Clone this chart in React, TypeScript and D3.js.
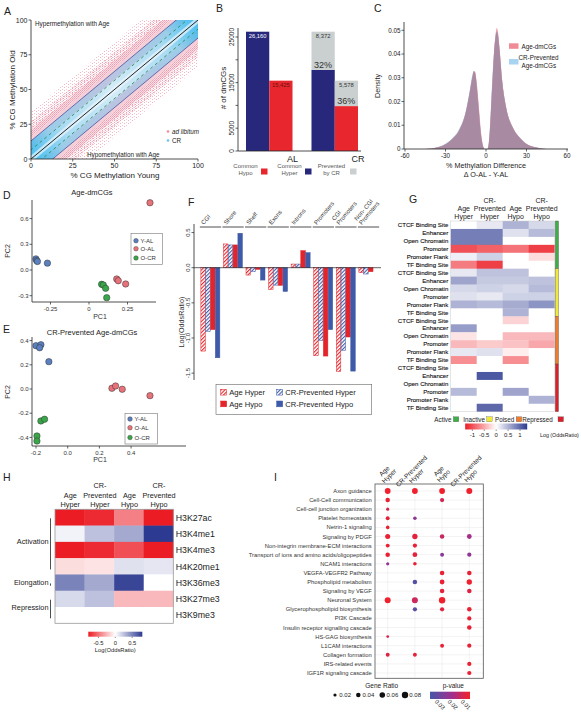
import React from 'react';
import * as d3 from 'd3';

const FONT = "'Liberation Sans', Arial, Helvetica, sans-serif";

// ---------------- Panel A data ----------------
const aTicks = [0, 25, 50, 75, 100];
const aPinkHalfWidths = [34, 27, 21, 16];
const aBlueHalfWidths = [13, 7, 2.5];
const aGuideOffsets = [-13, 13];
const aDashedOffsets = [-6.5, 6.5];

// ---------------- Panel B data ----------------
const bGroups = ['AL', 'CR'];
const bCommonHyper = [26160, 17788];
const bCommonHypo = [15425, 9847];
const bPreventedHyper = [0, 8372];
const bPreventedHypo = [0, 5578];
const bTicks = [0, 5000, 10000, 15000, 20000, 25000];
const bTickLabels = ['0', '5000', '', '15000', '', '25000'];
const bLegend = ['Common\nHypo', 'Common\nHyper', 'Prevented\nby CR'];

// ---------------- Panel C data ----------------
const cX = [-45, -40, -35, -30, -25, -20, -15, -12, -10, -9, -8, -7, -6, -5, -4, -3, -2, -1, 0, 1, 2, 3, 4, 5, 6, 7, 8, 9, 10, 12, 15, 20, 25, 30, 35, 40, 45];
const cAgeDensity = [0, 0.0002, 0.0008, 0.002, 0.0042, 0.0078, 0.0155, 0.024, 0.0305, 0.0328, 0.0325, 0.029, 0.023, 0.016, 0.009, 0.004, 0.001, 0, 0, 0, 0.002, 0.009, 0.02, 0.031, 0.041, 0.048, 0.051, 0.049, 0.043, 0.029, 0.0175, 0.009, 0.0048, 0.0022, 0.0009, 0.0003, 0];
const cCRDensity = [0, 0.0002, 0.0009, 0.0022, 0.0045, 0.0082, 0.016, 0.025, 0.0315, 0.033, 0.0318, 0.0275, 0.021, 0.014, 0.0075, 0.0032, 0.0008, 0, 0, 0, 0.0025, 0.0105, 0.022, 0.033, 0.0415, 0.047, 0.0495, 0.0475, 0.042, 0.0285, 0.0172, 0.0088, 0.0047, 0.0021, 0.0009, 0.0003, 0];
const cYTicks = [0, 0.01, 0.02, 0.03, 0.04, 0.05];
const cYTickLabels = ['0', '0.01', '0.02', '0.03', '0.04', '0.05'];
const cXTicks = [-60, -30, 0, 30, 60];

// ---------------- Panel D / E data ----------------
const dYAL = [[-0.345, 0.13], [-0.34, 0.11], [-0.335, 0.1], [-0.27, 0.08]];
const dOAL = [[0.18, -0.105], [0.19, -0.125], [0.238, -0.163], [0.396, 0.785]];
const dOCR = [[0.082, -0.167], [0.093, -0.175], [0.108, -0.214], [0.115, -0.323]];
const dXTicks = [-0.25, 0, 0.25];
const dXTickLabels = ['-0.25', '0', '0.25'];
const dYTicks = [-0.3, 0, 0.3, 0.6];
const dYTickLabels = ['-0.3', '0.0', '0.3', '0.6'];

const eYAL = [[-0.2, 0.358], [-0.169, 0.366], [-0.177, 0.341], [-0.119, 0.226]];
const eOAL = [[0.279, 0.006], [0.302, 0.025], [0.344, -0.002], [0.519, -0.055]];
const eOCR = [[-0.169, -0.264], [-0.146, -0.25], [-0.194, -0.388], [-0.194, -0.43]];
const eXTicks = [-0.2, 0, 0.2, 0.4];
const eXTickLabels = ['-0.2', '0.0', '0.2', '0.4'];
const eYTicks = [-0.4, -0.2, 0, 0.2, 0.4];
const eYTickLabels = ['-0.4', '-0.2', '0.0', '0.2', '0.4'];
const pcaGroups = ['Y-AL', 'O-AL', 'O-CR'];

// ---------------- Panel F data ----------------
const fCategories = ['CGI', 'Shore', 'Shelf', 'Exons', 'Introns', 'Promoters', 'CGI\nPromoters', 'Non- CGI\nPromoters'];
const fAgeHyper = [-1.186, 0.338, -0.105, -0.31, 0.052, -1.252, -1.476, -0.071];
const fCRHyper = [-0.905, 0.324, -0.057, -0.248, 0.052, -1.033, -1.176, -0.09];
const fAgeHypo = [-0.881, 0.324, -0.024, -0.252, 0.243, -1.257, -0.986, -0.057];
const fCRHypo = [-1.281, 0.49, -0.176, -0.338, 0.214, -0.881, -1.471, 0];
const fTicks = [0.5, 0, -0.5, -1, -1.5];
const fTickLabels = ['0.5', '0.0', '-0.5', '-1.0', '-1.5'];
const fSeries = ['Age Hyper', 'CR-Prevented Hyper', 'Age Hypo', 'CR-Prevented Hypo'];

// ---------------- Panel G data ----------------
const gColumns = ['Age\nHyper', 'CR-\nPrevented\nHyper', 'Age\nHypo', 'CR-\nPrevented\nHypo'];
const gFeatures = ['CTCF Binding Site', 'Enhancer', 'Open Chromatin', 'Promoter', 'Promoter Flank', 'TF Binding Site'];
const gStates = ['Active', 'Inactive', 'Poised', 'Repressed'];
const gAgeHyper = [0, 0.85, 0.85, -1.0, 0.1, -0.75, 0.15, 0.6, 0.25, 0.2, 0.5, 0, 0, 0.65, -0.15, -0.4, 0.15, -0.65, 0, 0, 0, 0.45, 0, 0];
const gCRHyper = [0.15, 0.85, 0.85, -0.9, 0.3, -1.1, 0.4, 0.35, 0.3, 0.15, 0.45, 0, 0, 0, 0, -0.3, 0.2, 0, 0, 1.1, 0, 0, 0, 1.0];
const gAgeHypo = [0.5, 0.2, 0, -0.8, 0, 0, 0.4, 0.35, 0.25, 0.3, 0.55, 0.5, -0.25, 0, -0.4, -0.35, -0.1, -0.65, 0, 0, 0, 0.6, 0, 0];
const gCRHypo = [0.25, 0.45, 0, -1.1, -0.2, 0, 0, 0.4, 0.45, 0.3, 0.7, 0, 0, 0, -0.4, -0.5, 0, 0, 0, 0, 0, 0, 0.5, 0];
const gBarTicks = [-1, -0.5, 0, 0.5, 1];
const gBarTickLabels = ['-1', '-0.5', '0', '0.5', '1'];

// ---------------- Panel H data ----------------
const hColumns = ['Age\nHyper', 'CR-\nPrevented\nHyper', 'Age\nHypo', 'CR-\nPrevented\nHypo'];
const hMarks = ['H3K27ac', 'H3K4me1', 'H3K4me3', 'H4K20me1', 'H3K36me3', 'H3K27me3', 'H3K9me3'];
const hAgeHyper = [-0.85, 0.05, -0.85, -0.12, 0.5, 0.15, 0];
const hCRHyper = [-0.75, 0.25, -0.75, -0.1, 0.35, 0.25, 0];
const hAgeHypo = [-0.45, 0.35, -0.62, 0.12, 0.75, -0.25, 0];
const hCRHypo = [-0.85, 0.85, -0.85, 0.1, 0, -0.25, 0];
const hGroups = [
  { name: 'Activation', from: 0, to: 3 },
  { name: 'Elongation', from: 4, to: 4 },
  { name: 'Repression', from: 5, to: 6 },
];
const hBarTicks = [-0.5, 0, 0.5];
const hBarTickLabels = ['-0.5', '0', '0.5'];

// ---------------- Panel I data ----------------
const iColumns = ['Age\nHyper', 'CR-Prevented\nHyper', 'Age\nHypo', 'CR-Prevented\nHypo'];
const iPathways = ['Axon guidance', 'Cell-Cell communication', 'Cell-cell junction organization', 'Platelet homeostasis', 'Netrin-1 signaling', 'Signaling by PDGF', 'Non-integrin membrane-ECM interactions', 'Transport of ions and amino acids/oligopeptides', 'NCAM1 interactions', 'VEGFA-VEGFR2 Pathway', 'Phospholipid metabolism', 'Signaling by VEGF', 'Neuronal System', 'Glycerophospholipid biosynthesis', 'PI3K Cascade', 'Insulin receptor signalling cascade', 'HS-GAG biosynthesis', 'L1CAM interactions', 'Collagen formation', 'IRS-related events', 'IGF1R signaling cascade'];
// [geneRatio, pValue] or null, one list per column
const iAgeHyper = [[0.065, 0.005], [0.04, 0.006], [0.02, 0.009], [0.03, 0.007], [0.025, 0.006], [0.05, 0.006], [0.03, 0.006], [0.04, 0.006], [0.02, 0.02], null, null, null, [0.07, 0.005], null, null, null, [0.015, 0.009], null, [0.03, 0.008], null, null];
const iCRHyper = [[0.065, 0.005], null, null, [0.025, 0.021], null, [0.055, 0.007], [0.035, 0.006], [0.045, 0.007], [0.025, 0.006], null, [0.04, 0.032], null, [0.07, 0.011], [0.035, 0.031], null, null, null, null, [0.03, 0.007], null, null];
const iAgeHypo = [[0.065, 0.005], [0.035, 0.01], null, null, null, [0.04, 0.012], null, [0.03, 0.023], null, [0.04, 0.006], [0.045, 0.006], [0.04, 0.007], [0.08, 0.005], [0.035, 0.007], null, null, null, [0.03, 0.006], null, null, null];
const iCRHypo = [[0.07, 0.005], null, null, null, null, [0.045, 0.017], null, [0.035, 0.021], null, [0.04, 0.006], [0.055, 0.005], [0.04, 0.008], null, [0.04, 0.006], [0.035, 0.006], [0.04, 0.006], null, [0.035, 0.006], null, [0.035, 0.006], [0.035, 0.006]];
const iRatioLegend = [0.02, 0.04, 0.06, 0.08];
const iPTicks = [0.03, 0.02, 0.01];

// ---------------- colours ----------------
const NAVY = '#27287c';
const RED = '#e8262d';
const GREY = '#c9d0cf';
const FRED = '#e3242b';
const FBLUE = '#3e5aa8';
const PCA_COL = ['#5b7fbf', '#e8727a', '#3aa64a'];
const STATE_COL = ['#3fae49', '#f0e83a', '#ef7b2b', '#d9202b'];

const heatColor = (lim: number) =>
  d3.scaleLinear<string>().domain([-lim, 0, lim]).range(['#ec1c24', '#ffffff', '#2c3a91']).interpolate(d3.interpolateRgb).clamp(true);

function multiLine(text: string, lh: number, anchorLast = true) {
  const lines = text.split('\n');
  return lines.map((l, k) => (
    <tspan key={k} x={0} y={anchorLast ? (k - (lines.length - 1)) * lh : k * lh}>{l}</tspan>
  ));
}

function PanelA() {
  const x = d3.scaleLinear().domain([0, 100]).range([31, 198]);
  const y = d3.scaleLinear().domain([0, 100]).range([159, 20]);
  const band = (w: number) => {
    const pts: [number, number][] = [[-50, -50 - w], [150, 150 - w], [150, 150 + w], [-50, -50 + w]];
    return (d3.line()(pts.map(([a, b]) => [x(a), y(b)]) as any) as string) + 'Z';
  };
  const diag = (o: number) => ({ x1: x(-50), y1: y(-50 + o), x2: x(150), y2: y(150 + o) });
  const pinkFills = ['url(#pinkSparse)', 'url(#pinkMed)', 'url(#pinkDense)', '#f5cfd8'];
  const blueFills = ['url(#aGradOuter)', 'url(#aGradInner)', 'rgba(235,246,252,0.7)'];
  return (
    <g>
      <defs>
        <clipPath id="clipA"><rect x={31} y={20} width={167} height={139} /></clipPath>
        <pattern id="pinkSparse" width={4} height={3} patternUnits="userSpaceOnUse">
          <rect x={0} y={0} width={1} height={1} fill="#f3b3c3" />
          <rect x={2} y={2} width={1} height={1} fill="#f6c6d2" />
        </pattern>
        <pattern id="pinkMed" width={3} height={2} patternUnits="userSpaceOnUse">
          <rect x={0} y={0} width={1} height={1} fill="#f0a2b5" />
          <rect x={1.5} y={1} width={1} height={1} fill="#f5c0cd" />
        </pattern>
        <pattern id="pinkDense" width={2} height={2} patternUnits="userSpaceOnUse">
          <rect x={0} y={0} width={2} height={2} fill="#f9e0e6" />
          <rect x={0} y={0} width={1} height={1} fill="#ee9cb0" />
          <rect x={1} y={1} width={1} height={1} fill="#f2b2c2" />
        </pattern>
        <linearGradient id="aGradOuter" gradientUnits="userSpaceOnUse" x1={x(0)} y1={y(0)} x2={x(100)} y2={y(100)}>
          <stop offset="0" stopColor="#3fb6ea" />
          <stop offset="0.15" stopColor="#9ccde9" />
          <stop offset="0.5" stopColor="#bcc4e0" />
          <stop offset="0.85" stopColor="#9ccde9" />
          <stop offset="1" stopColor="#3fb6ea" />
        </linearGradient>
        <linearGradient id="aGradInner" gradientUnits="userSpaceOnUse" x1={x(0)} y1={y(0)} x2={x(100)} y2={y(100)}>
          <stop offset="0" stopColor="#45bdf0" />
          <stop offset="0.2" stopColor="#a9dbf3" />
          <stop offset="0.5" stopColor="#d3ebf7" />
          <stop offset="0.8" stopColor="#a9dbf3" />
          <stop offset="1" stopColor="#45bdf0" />
        </linearGradient>
      </defs>
      <g clipPath="url(#clipA)">
        {aPinkHalfWidths.map((w, i) => <path key={'p' + i} d={band(w)} fill={pinkFills[i]} />)}
        {aBlueHalfWidths.map((w, i) => <path key={'b' + i} d={band(w)} fill={blueFills[i]} />)}
        {aGuideOffsets.map((o, i) => <line key={'g' + i} {...diag(o)} stroke="#4a4f9e" strokeWidth={0.8} />)}
        {aDashedOffsets.map((o, i) => <line key={'d' + i} {...diag(o)} stroke="#2f7f45" strokeWidth={0.8} strokeDasharray="3,3" />)}
        <line {...diag(0)} stroke="#111" strokeWidth={0.9} />
      </g>
      <line x1={31} x2={31} y1={20} y2={159} stroke="#222" strokeWidth={0.8} />
      <line x1={31} x2={198} y1={159} y2={159} stroke="#222" strokeWidth={0.8} />
      {aTicks.map(t => (
        <g key={'x' + t}>
          <line x1={x(t)} x2={x(t)} y1={159} y2={161.5} stroke="#222" strokeWidth={0.7} />
          <text x={x(t)} y={168} fontSize={7} textAnchor="middle" fill="#222">{t}</text>
        </g>
      ))}
      {aTicks.map(t => (
        <g key={'y' + t}>
          <line x1={28.5} x2={31} y1={y(t)} y2={y(t)} stroke="#222" strokeWidth={0.7} />
          <text x={27.5} y={y(t) + 2.5} fontSize={7} textAnchor="end" fill="#222">{t}</text>
        </g>
      ))}
      <text transform="translate(15,90) rotate(-90)" fontSize={8} textAnchor="middle" fill="#222">% CG Methylation Old</text>
      <text x={115} y={178} fontSize={8} textAnchor="middle" fill="#222">% CG Methylation Young</text>
      <text x={35} y={26} fontSize={6.3} fill="#222">Hypermethylation with Age</text>
      <text x={87} y={157} fontSize={6.3} fill="#222">Hypomethylation with Age</text>
      <circle cx={168} cy={131.5} r={1.3} fill="#f08aa0" />
      <text x={172} y={134} fontSize={6.3} fontStyle="italic" fill="#222">ad libitum</text>
      <circle cx={168} cy={140.5} r={1.3} fill="#6cc4ee" />
      <text x={172} y={143} fontSize={6.3} fill="#222">CR</text>
      <text x={4} y={15} fontSize={10.5} fill="#222">A</text>
    </g>
  );
}

function PanelB() {
  const y = d3.scaleLinear().domain([0, 30000]).range([151, 14.2]);
  const x = d3.scaleBand().domain(bGroups).range([232.9, 371.1]).paddingInner(0.29).paddingOuter(0.2);
  const bw = x.bandwidth() / 2;
  return (
    <g>
      {bGroups.map((g, i) => {
        const x0 = x(g)!;
        return (
          <g key={g}>
            <rect x={x0} y={y(bCommonHyper[i])} width={bw} height={y(0) - y(bCommonHyper[i])} fill={NAVY} />
            <rect x={x0} y={y(bCommonHyper[i] + bPreventedHyper[i])} width={bw} height={y(0) - y(bPreventedHyper[i])} fill={GREY} />
            <rect x={x0 + bw} y={y(bCommonHypo[i])} width={bw} height={y(0) - y(bCommonHypo[i])} fill={RED} />
            <rect x={x0 + bw} y={y(bCommonHypo[i] + bPreventedHypo[i])} width={bw} height={y(0) - y(bPreventedHypo[i])} fill={GREY} />
            <text x={x0 + bw + bw} y={162} fontSize={9} textAnchor="middle" fill="#222">{g}</text>
          </g>
        );
      })}
      <text x={x('AL')! + bw / 2} y={y(bCommonHyper[0]) + 6.5} fontSize={5.8} textAnchor="middle" fill="#fff">{d3.format(',')(bCommonHyper[0] + bPreventedHyper[0])}</text>
      <text x={x('AL')! + bw * 1.5} y={y(bCommonHypo[0]) + 6.5} fontSize={5.8} textAnchor="middle" fill="#6b1111">{d3.format(',')(bCommonHypo[0] + bPreventedHypo[0])}</text>
      <text x={x('CR')! + bw / 2} y={y(bCommonHyper[1] + bPreventedHyper[1]) + 6.5} fontSize={5.8} textAnchor="middle" fill="#333">{d3.format(',')(bPreventedHyper[1])}</text>
      <text x={x('CR')! + bw * 1.5} y={y(bCommonHypo[1] + bPreventedHypo[1]) + 6.5} fontSize={5.8} textAnchor="middle" fill="#333">{d3.format(',')(bPreventedHypo[1])}</text>
      <text x={x('CR')! + bw / 2} y={y(bCommonHyper[1]) - 2} fontSize={9} textAnchor="middle" fill="#333">{d3.format('.0%')(bPreventedHyper[1] / (bCommonHyper[1] + bPreventedHyper[1]))}</text>
      <text x={x('CR')! + bw * 1.5} y={y(bCommonHypo[1]) - 2} fontSize={9} textAnchor="middle" fill="#333">{d3.format('.0%')(bPreventedHypo[1] / (bCommonHypo[1] + bPreventedHypo[1]))}</text>
      <line x1={238} x2={238} y1={28} y2={151} stroke="#222" strokeWidth={0.8} />
      <line x1={238} x2={361} y1={151} y2={151} stroke="#222" strokeWidth={0.8} />
      {bTicks.map((t, i) => (
        <g key={t}>
          <line x1={235.5} x2={238} y1={y(t)} y2={y(t)} stroke="#222" strokeWidth={0.7} />
          <text transform={`translate(234,${y(t)}) rotate(-90)`} fontSize={6.5} textAnchor="middle" fill="#222">{bTickLabels[i]}</text>
        </g>
      ))}
      <text transform="translate(226,88) rotate(-90)" fontSize={8} textAnchor="middle" fill="#222"># of dmCGs</text>
      {bLegend.map((l, i) => {
        const cx = [245.5, 289.5, 331.5][i];
        const sx = [261, 305, 350][i];
        const col = [RED, NAVY, GREY][i];
        return (
          <g key={l}>
            <text transform={`translate(${cx},167.5)`} fontSize={6} textAnchor="middle" fill="#555">{multiLine(l, 7.5, false)}</text>
            <rect x={sx} y={168.5} width={6.5} height={6} fill={col} />
          </g>
        );
      })}
      <text x={216} y={12} fontSize={10.5} fill="#222">B</text>
    </g>
  );
}

function PanelC() {
  const x = d3.scaleLinear().domain([-60, 60]).range([405, 567]);
  const y = d3.scaleLinear().domain([0, 0.05]).range([149, 30.3]);
  const area = (vals: number[]) =>
    d3.area<number>().x((_, i) => x(cX[i])).y0(y(0)).y1(d => y(d)).curve(d3.curveMonotoneX)(vals) as string;
  const overlap = cAgeDensity.map((v, i) => Math.min(v, cCRDensity[i]));
  return (
    <g>
      <path d={area(cCRDensity)} fill="#a9d3f0" />
      <path d={area(cAgeDensity)} fill="#eea3ad" />
      <path d={area(overlap)} fill="#a88ba3" />
      <line x1={404} x2={404} y1={22} y2={149} stroke="#222" strokeWidth={0.8} />
      <line x1={404} x2={568} y1={149} y2={149} stroke="#222" strokeWidth={0.8} />
      {cYTicks.map((t, i) => (
        <g key={t}>
          <line x1={401.5} x2={404} y1={y(t)} y2={y(t)} stroke="#222" strokeWidth={0.7} />
          <text x={400.5} y={y(t) + 2.2} fontSize={6.3} textAnchor="end" fill="#222">{cYTickLabels[i]}</text>
        </g>
      ))}
      {cXTicks.map(t => (
        <g key={t}>
          <line x1={x(t)} x2={x(t)} y1={149} y2={151.5} stroke="#222" strokeWidth={0.7} />
          <text x={x(t)} y={157.5} fontSize={6.3} textAnchor="middle" fill="#222">{t}</text>
        </g>
      ))}
      <text x={486} y={167.5} fontSize={7.2} textAnchor="middle" fill="#222">% Methylation Difference</text>
      <text x={486} y={177} fontSize={7.2} textAnchor="middle" fill="#222">Δ O-AL - Y-AL</text>
      <text transform="translate(379.5,86) rotate(-90)" fontSize={7.2} textAnchor="middle" fill="#222">Density</text>
      <rect x={509} y={43.3} width={9.5} height={5.5} fill="#f08a97" />
      <text x={521.5} y={48.5} fontSize={6.3} fill="#222">Age-dmCGs</text>
      <rect x={509} y={59} width={9.5} height={5.5} fill="#a8d4f2" />
      <text x={518.5} y={59.5} fontSize={6.3} fill="#222">CR-Prevented</text>
      <text x={521.5} y={68} fontSize={6.3} fill="#222">Age-dmCGs</text>
      <text x={374} y={12} fontSize={10.5} fill="#222">C</text>
    </g>
  );
}

function PCAPanel(props: any) {
  const { x, y, sets, xTicks, xLabels, yTicks, yLabels, axisTop, axisBottom, axisRight, legend, tickLabelY, pc1Y, pc2Y, title, titleY, letter, letterY } = props;
  return (
    <g>
      <line x1={32} x2={32} y1={axisTop} y2={axisBottom} stroke="#222" strokeWidth={0.8} />
      <line x1={32} x2={axisRight} y1={axisBottom} y2={axisBottom} stroke="#222" strokeWidth={0.8} />
      {xTicks.map((t: number, i: number) => (
        <g key={'x' + i}>
          <line x1={x(t)} x2={x(t)} y1={axisBottom} y2={axisBottom + 2.5} stroke="#222" strokeWidth={0.7} />
          <text x={x(t)} y={tickLabelY} fontSize={6} textAnchor="middle" fill="#333">{xLabels[i]}</text>
        </g>
      ))}
      {yTicks.map((t: number, i: number) => (
        <g key={'y' + i}>
          <line x1={29.5} x2={32} y1={y(t)} y2={y(t)} stroke="#222" strokeWidth={0.7} />
          <text x={28.5} y={y(t) + 2.1} fontSize={6} textAnchor="end" fill="#333">{yLabels[i]}</text>
        </g>
      ))}
      {sets.map((pts: number[][], si: number) =>
        pts.map((p, k) => <circle key={si + '-' + k} cx={x(p[0])} cy={y(p[1])} r={3.2} fill={PCA_COL[si]} stroke="#333" strokeWidth={0.5} />)
      )}
      <text x={100} y={pc1Y} fontSize={7} textAnchor="middle" fill="#333">PC1</text>
      <text transform={`translate(10,${pc2Y}) rotate(-90)`} fontSize={7} textAnchor="middle" fill="#333">PC2</text>
      <text x={92} y={titleY} fontSize={7.5} textAnchor="middle" fill="#222">{title}</text>
      <text x={3} y={letterY} fontSize={10.5} fill="#222">{letter}</text>
      <rect x={legend.x} y={legend.y} width={legend.w} height={legend.h} fill="#fff" stroke="#777" strokeWidth={0.6} />
      {pcaGroups.map((g, i) => (
        <g key={g}>
          <circle cx={legend.x + 5} cy={legend.rows[i]} r={2.3} fill={PCA_COL[i]} stroke="#333" strokeWidth={0.4} />
          <text x={legend.x + 9.5} y={legend.rows[i] + 2.1} fontSize={6} fill="#333">{g}</text>
        </g>
      ))}
    </g>
  );
}

function PanelD() {
  const x = d3.scaleLinear().domain([0, 0.25]).range([89, 127.5]);
  const y = d3.scaleLinear().domain([0, 0.3]).range([270, 244.3]);
  return (
    <PCAPanel x={x} y={y} sets={[dYAL, dOAL, dOCR]} xTicks={dXTicks} xLabels={dXTickLabels} yTicks={dYTicks} yLabels={dYTickLabels}
      axisTop={200} axisBottom={302} axisRight={156} tickLabelY={311} pc1Y={319} pc2Y={251}
      title="Age-dmCGs" titleY={195} letter="D" letterY={199}
      legend={{ x: 131, y: 233.3, w: 31.5, h: 31, rows: [240.7, 248.7, 258] }} />
  );
}

function PanelE() {
  const x = d3.scaleLinear().domain([0, 0.2]).range([67.7, 99.4]);
  const y = d3.scaleLinear().domain([0, 0.2]).range([389, 364.8]);
  return (
    <PCAPanel x={x} y={y} sets={[eYAL, eOAL, eOCR]} xTicks={eXTicks} xLabels={eXTickLabels} yTicks={eYTicks} yLabels={eYTickLabels}
      axisTop={337} axisBottom={446} axisRight={186} tickLabelY={454.5} pc1Y={462} pc2Y={392}
      title="CR-Prevented Age-dmCGs" titleY={335} letter="E" letterY={333}
      legend={{ x: 125, y: 413.3, w: 32.5, h: 30.7, rows: [419, 427.7, 437.5] }} />
  );
}

function PanelF() {
  const y = d3.scaleLinear().domain([0, 1]).range([267.7, 197.4]);
  const x = d3.scaleBand().domain(fCategories).range([199.5, 379.5]).paddingInner(0.145).paddingOuter(0.06);
  const sub = d3.scaleBand().domain(fSeries).range([0, x.bandwidth()]);
  const series = [fAgeHyper, fCRHyper, fAgeHypo, fCRHypo];
  const fills = ['url(#hatchRed)', 'url(#hatchBlue)', FRED, FBLUE];
  const strokes = [FRED, FBLUE, FRED, FBLUE];
  return (
    <g>
      <defs>
        <pattern id="hatchRed" width={2.6} height={2.6} patternUnits="userSpaceOnUse" patternTransform="rotate(45)">
          <rect width={2.6} height={2.6} fill="#fff" />
          <rect width={1.1} height={2.6} fill={FRED} />
        </pattern>
        <pattern id="hatchBlue" width={2.6} height={2.6} patternUnits="userSpaceOnUse" patternTransform="rotate(45)">
          <rect width={2.6} height={2.6} fill="#fff" />
          <rect width={1.1} height={2.6} fill={FBLUE} />
        </pattern>
      </defs>
      {fCategories.map((c, ci) => {
        const gx = x(c)!;
        return (
          <g key={c}>
            {series.map((s, si) => {
              const v = s[ci];
              if (v === 0) return null;
              const y0 = Math.min(y(0), y(v));
              const h = Math.abs(y(v) - y(0));
              return <rect key={si} x={gx + sub(fSeries[si])!} y={y0} width={sub.bandwidth() - 0.3} height={h} fill={fills[si]} stroke={strokes[si]} strokeWidth={0.5} />;
            })}
            <line x1={gx - 1} x2={gx + x.bandwidth() + 1} y1={227} y2={227} stroke="#222" strokeWidth={0.8} />
            <text transform={`translate(${gx + 3},225) rotate(-50)`} fontSize={6} fill="#333">{multiLine(c, 6.4)}</text>
          </g>
        );
      })}
      <line x1={194} x2={381} y1={y(0)} y2={y(0)} stroke="#222" strokeWidth={0.7} />
      <line x1={194} x2={194} y1={224} y2={380} stroke="#222" strokeWidth={0.8} />
      {fTicks.map((t, i) => (
        <g key={t}>
          <line x1={191.5} x2={194} y1={y(t)} y2={y(t)} stroke="#222" strokeWidth={0.7} />
          <text transform={`translate(190.3,${y(t)}) rotate(-90)`} fontSize={6} textAnchor="middle" fill="#333">{fTickLabels[i]}</text>
        </g>
      ))}
      <text transform="translate(183.5,322) rotate(-90)" fontSize={7.2} textAnchor="middle" fill="#333">Log(OddsRatio)</text>
      <rect x={216} y={384.3} width={155.7} height={30} fill="#fff" stroke="#666" strokeWidth={0.6} />
      {fSeries.map((s, i) => {
        const lx = i % 2 === 0 ? 220.7 : 276.7;
        const ly = i < 2 ? 389.3 : 401;
        return (
          <g key={s}>
            <rect x={lx} y={ly} width={6} height={5.8} fill={fills[i]} stroke={strokes[i]} strokeWidth={0.5} />
            <text x={lx + 8.5} y={ly + 5.6} fontSize={7.6} fill="#222">{s}</text>
          </g>
        );
      })}
      <text x={188} y={206} fontSize={10.5} fill="#222">F</text>
    </g>
  );
}

function PanelG() {
  const cols = [gAgeHyper, gCRHyper, gAgeHypo, gCRHypo];
  const rows = gStates.flatMap(() => gFeatures);
  const x = d3.scaleBand().domain(d3.range(4).map(String)).range([450.7, 554.7]);
  const y = d3.scaleBand().domain(d3.range(rows.length).map(String)).range([221, 411.7]);
  const color = heatColor(1.3);
  const cb = d3.scaleLinear().domain([-1.3, 1.3]).range([465.2, 527.2]);
  const stops = d3.range(0, 1.0001, 0.1);
  return (
    <g>
      <defs>
        <linearGradient id="gBar" x1="0" x2="1" y1="0" y2="0">
          {stops.map(s => <stop key={s} offset={s} stopColor={color(-1.3 + 2.6 * s)} />)}
        </linearGradient>
      </defs>
      {cols.map((vals, ci) => vals.map((v, ri) => (
        <rect key={ci + '-' + ri} x={x(String(ci))!} y={y(String(ri))!} width={x.bandwidth() + 0.3} height={y.bandwidth() + 0.3} fill={color(v)} />
      )))}
      <rect x={450.7} y={221} width={104} height={190.7} fill="none" stroke="#ccc" strokeWidth={0.5} />
      {rows.map((r, ri) => (
        <text key={ri} x={448.3} y={y(String(ri))! + y.bandwidth() / 2 + 2.2} fontSize={6.1} textAnchor="end" fill="#111" stroke="#111" strokeWidth={0.12}>{r}</text>
      ))}
      {gStates.map((s, si) => (
        <rect key={s} x={555.3} y={y(String(si * 6))!} width={3.2} height={y.bandwidth() * 6} fill={STATE_COL[si]} stroke="#555" strokeWidth={0.4} />
      ))}
      {gColumns.map((c, ci) => (
        <text key={ci} transform={`translate(${x(String(ci))! + x.bandwidth() / 2},219.3)`} fontSize={7} textAnchor="middle" fill="#222">{multiLine(c, 8)}</text>
      ))}
      {gStates.map((s, si) => {
        const tx = [434.3, 463.3, 495, 522.3][si];
        const sx = [453.3, 486.7, 516.2, 558][si];
        return (
          <g key={s}>
            <text x={tx} y={421.5} fontSize={6.3} fill="#222">{s}</text>
            <rect x={sx} y={416.8} width={5.5} height={5} fill={STATE_COL[si]} stroke="#555" strokeWidth={0.3} />
          </g>
        );
      })}
      <rect x={465.2} y={423.5} width={62} height={6} fill="url(#gBar)" />
      {gBarTicks.map((t, i) => (
        <g key={t}>
          <line x1={cb(t)} x2={cb(t)} y1={429.5} y2={431} stroke="#222" strokeWidth={0.5} />
          <text x={cb(t)} y={437} fontSize={6} textAnchor="middle" fill="#222">{gBarTickLabels[i]}</text>
        </g>
      ))}
      <text x={540} y={437} fontSize={5.3} fill="#222">Log (OddsRatio)</text>
      <text x={409} y={203} fontSize={10.5} fill="#222">G</text>
    </g>
  );
}

function PanelH() {
  const cols = [hAgeHyper, hCRHyper, hAgeHypo, hCRHypo];
  const x = d3.scaleBand().domain(d3.range(4).map(String)).range([55, 173.3]);
  const y = d3.scaleBand().domain(hMarks).range([509.3, 623.3]);
  const color = heatColor(0.8);
  const cb = d3.scaleLinear().domain([-0.8, 0.8]).range([88.3, 142.3]);
  const stops = d3.range(0, 1.0001, 0.1);
  return (
    <g>
      <defs>
        <linearGradient id="hBar" x1="0" x2="1" y1="0" y2="0">
          {stops.map(s => <stop key={s} offset={s} stopColor={color(-0.8 + 1.6 * s)} />)}
        </linearGradient>
      </defs>
      {cols.map((vals, ci) => vals.map((v, ri) => (
        <rect key={ci + '-' + ri} x={x(String(ci))!} y={y(hMarks[ri])!} width={x.bandwidth() + 0.3} height={y.bandwidth() + 0.3} fill={color(v)} />
      )))}
      <rect x={55} y={509.3} width={118.3} height={114} fill="none" stroke="#999" strokeWidth={0.8} />
      {hMarks.map(m => (
        <text key={m} x={175.7} y={y(m)! + y.bandwidth() / 2 + 3.2} fontSize={8.8} fill="#222">{m}</text>
      ))}
      {hColumns.map((c, ci) => (
        <text key={ci} transform={`translate(${x(String(ci))! + x.bandwidth() / 2 + 0.5},506.8)`} fontSize={7.3} textAnchor="middle" fill="#222">{multiLine(c, 9.3)}</text>
      ))}
      {hGroups.map(g => {
        const y0 = y(hMarks[g.from])!;
        const y1 = y(hMarks[g.to])! + y.bandwidth();
        return (
          <g key={g.name}>
            <line x1={50.5} x2={50.5} y1={y0 + 9} y2={y1 - 5} stroke="#222" strokeWidth={0.8} />
            <text x={48.5} y={(y0 + y1) / 2 + 2.6} fontSize={7.3} textAnchor="end" fill="#222">{g.name}</text>
          </g>
        );
      })}
      <rect x={88.3} y={631.7} width={54} height={5} fill="url(#hBar)" />
      {hBarTicks.map((t, i) => (
        <g key={t}>
          <line x1={cb(t)} x2={cb(t)} y1={636.7} y2={638} stroke="#222" strokeWidth={0.5} />
          <text x={cb(t)} y={644.5} fontSize={5.8} textAnchor="middle" fill="#222">{hBarTickLabels[i]}</text>
        </g>
      ))}
      <text x={115.3} y={651.5} fontSize={5.8} textAnchor="middle" fill="#222">Log(OddsRatio)</text>
      <text x={3} y={481} fontSize={10.5} fill="#222">H</text>
    </g>
  );
}

function PanelI() {
  const cols = [iAgeHyper, iCRHyper, iAgeHypo, iCRHypo];
  const x = d3.scalePoint().domain(d3.range(4).map(String)).range([387.7, 469.3]);
  const y = d3.scalePoint().domain(iPathways).range([491, 673]);
  const r = d3.scaleSqrt().domain([0, 0.08]).range([0, 3.2]);
  const pc = d3.scaleLinear<string>().domain([0.035, 0.018, 0.005]).range(['#4657a8', '#a0308f', '#f0202e']).interpolate(d3.interpolateRgb).clamp(true);
  const pb = d3.scaleLinear().domain([0.035, 0.004]).range([430, 470]);
  const stops = d3.range(0, 1.0001, 0.1);
  return (
    <g>
      <defs>
        <linearGradient id="iBar" x1="0" x2="1" y1="0" y2="0">
          {stops.map(s => <stop key={s} offset={s} stopColor={pc(0.035 - 0.031 * s)} />)}
        </linearGradient>
      </defs>
      <rect x={375} y={484} width={108.3} height={194.3} fill="#fff" />
      {iPathways.map(p => <line key={p} x1={375} x2={483.3} y1={y(p)!} y2={y(p)!} stroke="#e6e6e6" strokeWidth={0.5} />)}
      {d3.range(4).map(j => <line key={j} x1={x(String(j))!} x2={x(String(j))!} y1={484} y2={678.3} stroke="#e6e6e6" strokeWidth={0.5} />)}
      <rect x={375} y={484} width={108.3} height={194.3} fill="none" stroke="#555" strokeWidth={0.8} />
      {cols.map((vals, ci) => vals.map((d, ri) => d ? (
        <circle key={ci + '-' + ri} cx={x(String(ci))!} cy={y(iPathways[ri])!} r={r(d[0])} fill={pc(d[1])} />
      ) : null))}
      {iPathways.map(p => (
        <text key={p} x={371.7} y={y(p)! + 2} fontSize={5.8} textAnchor="end" fill="#333">{p}</text>
      ))}
      {iColumns.map((c, ci) => (
        <text key={ci} transform={`translate(${x(String(ci))! + 3},477.5) rotate(-45)`} fontSize={6.5} textAnchor="middle" fill="#222">{multiLine(c, 6.8)}</text>
      ))}
      <text x={381.7} y={688} fontSize={6.5} textAnchor="middle" fill="#222">Gene Ratio</text>
      {iRatioLegend.map((g, i) => {
        const cx = [335, 358.3, 382.3, 405][i];
        return (
          <g key={g}>
            <circle cx={cx} cy={695} r={r(g)} fill="#111" />
            <text x={cx + 4.3} y={697.2} fontSize={6} fill="#222">{g.toFixed(2)}</text>
          </g>
        );
      })}
      <text x={453.3} y={688} fontSize={6.5} textAnchor="middle" fill="#222">p-value</text>
      <rect x={430} y={691.7} width={40} height={7.3} fill="url(#iBar)" />
      {iPTicks.map(t => (
        <text key={t} transform={`translate(${pb(t) - 2},702) rotate(45)`} fontSize={5.8} fill="#222">{t.toFixed(2)}</text>
      ))}
      <text x={274} y={481} fontSize={10.5} fill="#222">I</text>
    </g>
  );
}

export default function App() {
  return (
    <svg width={581} height={716} viewBox="0 0 581 716" style={{ position: 'absolute', left: 0, top: 0, background: '#fff' }} fontFamily={FONT}>
      <rect width={581} height={716} fill="#fff" />
      <PanelA />
      <PanelB />
      <PanelC />
      <PanelD />
      <PanelE />
      <PanelF />
      <PanelG />
      <PanelH />
      <PanelI />
    </svg>
  );
}
